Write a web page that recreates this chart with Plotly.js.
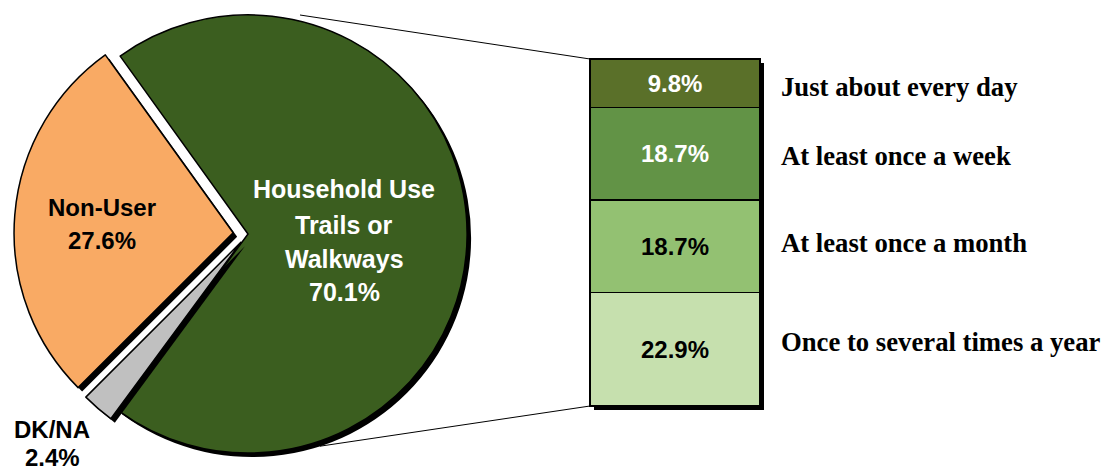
<!DOCTYPE html>
<html><head><meta charset="utf-8">
<script src="https://cdn.plot.ly/plotly-3.0.1.min.js"></script>
<style>html,body{margin:0;padding:0;background:#fff;} #chart{width:1105px;height:472px;}</style>
</head><body><div id="chart"></div>
<script>
// ---- data ----
const pieLabels = ['Household Use Trails or Walkways', 'DK/NA', 'Non-User'];
const pieLabelLines = [['Household Use', 'Trails or', 'Walkways'], ['DK/NA'], ['Non-User']];
const pieValues = [70.1, 2.4, 27.6];

const freqLabels = ['Once to several times a year', 'At least once a month', 'At least once a week', 'Just about every day'];
const freqValues = [22.9, 18.7, 18.7, 9.8];

// ---- styles ----
const W = 1105, H = 472;
const pieColors = ['#3b5e1f', '#c0c0c0', '#f9aa64'];
const piePull = [0, 0.05, 0.068];
const pieTextColors = ['#ffffff', '#000000', '#000000'];
const pieTextSize = [25, 24, 24];
const pieTextX = [344, 52, 102];
const pieTextY = [[189, 225, 259, 292], [429, 457], [208, 240]];
const freqColors = ['#c6e0ae', '#93c172', '#629346', '#5a7029'];
const freqTextColors = ['#000000', '#000000', '#ffffff', '#ffffff'];
const freqLabelShift = [7, 3, -2, -4];
const SANS = 'Liberation Sans, Arial, sans-serif';
const SERIF = 'Liberation Serif, Times New Roman, serif';

const dom = {x: [14 / W, 482 / W], y: [4 / H, 1]};
const sdom = {x: [18 / W, 486 / W], y: [0, 1 - 4 / H]};
const traces = [];

for (let k = 0; k < pieValues.length; k++) {
  const common = {type: 'pie', values: pieValues, labels: pieLabels, sort: false,
    direction: 'clockwise', rotation: -35.7, pull: piePull, textinfo: 'none',
    hoverinfo: 'skip', showlegend: false};
  traces.push(Object.assign({}, common, {domain: sdom,
    marker: {colors: pieValues.map((v, i) => i === k ? '#000000' : 'rgba(0,0,0,0)'), line: {width: 0}}}));
  traces.push(Object.assign({}, common, {domain: dom,
    marker: {colors: pieValues.map((v, i) => i === k ? pieColors[i] : 'rgba(0,0,0,0)'),
      line: {color: pieValues.map((v, i) => i === k ? '#000000' : 'rgba(0,0,0,0)'), width: 1.5}}}));
}

const total = freqValues.reduce((a, b) => a + b, 0);
// shadow bar (subplot xy, drawn first)
traces.push({type: 'bar', x: [0], y: [total], width: [1], xaxis: 'x', yaxis: 'y',
  marker: {color: '#000000', line: {width: 0}}, hoverinfo: 'skip', showlegend: false});
// stacked bar (subplot x2y2, drawn on top)
for (let i = 0; i < freqValues.length; i++) {
  traces.push({type: 'bar', x: [0], y: [freqValues[i]], width: [1], xaxis: 'x2', yaxis: 'y2',
    marker: {color: freqColors[i], line: {color: '#000000', width: 1.5}},
    text: [freqValues[i].toFixed(1) + '%'], textposition: 'inside', insidetextanchor: 'middle',
    textangle: 0, constraintext: 'none',
    textfont: {family: SANS, size: 24, color: freqTextColors[i], weight: 'bold'},
    hoverinfo: 'skip', showlegend: false});
}

// bar placement (pixels)
const bL = 590, bR = 760, bT = 59, bB = 406, pad = 0.03, ypad = 1;
const sx = (bR - bL);
const sy = (bB - bT) / total;
function xdom(off) { return [(bL + off - pad * sx) / W, (bR + off + pad * sx) / W]; }
function ydom(off) { return [1 - (bB + off + ypad * sy) / H, 1 - (bT + off - ypad * sy) / H]; }

const annotations = [];
for (let i = 0; i < pieValues.length; i++) {
  const lines = pieLabelLines[i].concat([pieValues[i].toFixed(1) + '%']);
  lines.forEach((t, j) => annotations.push({xref: 'paper', yref: 'paper', x: pieTextX[i] / W,
    y: 1 - pieTextY[i][j] / H, xanchor: 'center', yanchor: 'middle', showarrow: false,
    text: '<b>' + t + '</b>', font: {family: SANS, size: pieTextSize[i], color: pieTextColors[i]}}));
}
let cum = 0;
for (let i = 0; i < freqValues.length; i++) {
  annotations.push({xref: 'paper', yref: 'y2', x: 779 / W, y: cum + freqValues[i] / 2,
    yshift: freqLabelShift[i],
    xanchor: 'left', yanchor: 'middle', showarrow: false, text: '<b>' + freqLabels[i] + '</b>',
    font: {family: SERIF, size: 26.7, color: '#000000'}});
  cum += freqValues[i];
}

const shapes = [
  {type: 'line', xref: 'paper', yref: 'paper', layer: 'below', x0: 300 / W, y0: 1 - 15 / H, x1: bL / W, y1: 1 - bT / H, line: {color: '#000', width: 1}},
  {type: 'line', xref: 'paper', yref: 'paper', layer: 'below', x0: 320 / W, y0: 1 - 446.2 / H, x1: bL / W, y1: 1 - bB / H, line: {color: '#000', width: 1}}
];

const layout = {
  width: W, height: H, margin: {l: 0, r: 0, t: 0, b: 0},
  paper_bgcolor: '#ffffff', plot_bgcolor: 'rgba(0,0,0,0)',
  barmode: 'stack', showlegend: false,
  xaxis: {domain: xdom(4), range: [-0.5 - pad, 0.5 + pad], visible: false, fixedrange: true},
  yaxis: {domain: ydom(4), range: [-ypad, total + ypad], visible: false, fixedrange: true},
  xaxis2: {domain: xdom(0), range: [-0.5 - pad, 0.5 + pad], visible: false, anchor: 'y2', fixedrange: true},
  yaxis2: {domain: ydom(0), range: [-ypad, total + ypad], visible: false, anchor: 'x2', fixedrange: true},
  annotations: annotations, shapes: shapes
};
Plotly.newPlot('chart', traces, layout, {displayModeBar: false, staticPlot: true});
</script></body></html>
